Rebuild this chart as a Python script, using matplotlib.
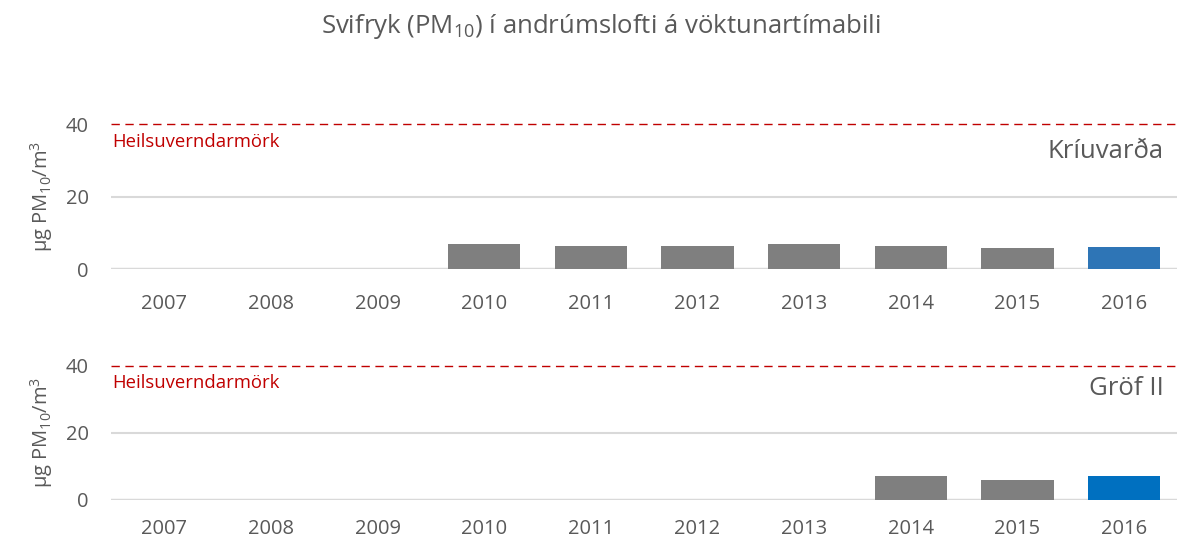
#Svifryk (PM10) chart, two stations stacked
import numpy as np
import matplotlib.pyplot as plt

plt.rcParams['font.family'] = ['Open Sans', 'DejaVu Sans']
plt.rcParams['mathtext.fontset'] = 'custom'
plt.rcParams['mathtext.rm'] = 'Open Sans'
plt.rcParams['mathtext.it'] = 'Open Sans'

#Data
years = ['2007', '2008', '2009', '2010', '2011', '2012', '2013', '2014', '2015', '2016']
kriuvarda = [0, 0, 0, 6.9, 6.3, 6.3, 7.0, 6.3, 5.8, 6.2]
grof = [0, 0, 0, 0, 0, 0, 0, 7.1, 5.9, 7.1]
limit = 40
yticks = [0, 20, 40]

txt_grey = '#595959'
bar_grey = '#7f7f7f'
grid_col = '#d9d9d9'
red = '#c00000'

fig = plt.figure(figsize=(11.77, 5.43), dpi=100)
fig.text(0.511, 0.952, 'Svifryk (PM$_{10}$) í andrúmslofti á vöktunartímabili',
         ha='center', va='center', fontsize=18.5, color=txt_grey)

ax1 = fig.add_axes([0.0943, 0.5046, 0.906, 0.267])
ax2 = fig.add_axes([0.0943, 0.0800, 0.906, 0.2460])

panels = [(ax1, kriuvarda, 'Kríuvarða', '#2e75b6', 32.3, 18),
          (ax2, grof, 'Gröf II', '#0070c0', 33.2, 14)]

x = np.arange(len(years))
for ax, vals, name, last_col, name_y, xpad in panels:
    cols = [bar_grey] * (len(vals) - 1) + [last_col]
    ax.bar(x, vals, width=0.68, color=cols, zorder=3)
    ax.axhline(0, color=grid_col, lw=2.5, zorder=2)
    ax.axhline(20, color=grid_col, lw=1.5, zorder=1)
    ax.axhline(limit, color=red, lw=1, ls=(0, (6, 4)), zorder=2, clip_on=False)
    ax.set_xlim(-0.5, len(years) - 0.5)
    ax.set_ylim(0, limit)
    ax.set_xticks(x)
    ax.set_xticklabels(years)
    ax.set_yticks(yticks)
    ax.tick_params(length=0, labelsize=14.5, colors=txt_grey)
    ax.tick_params(axis='x', pad=xpad)
    ax.tick_params(axis='y', pad=16)
    for s in ax.spines.values():
        s.set_visible(False)
    ax.set_ylabel('µg PM$_{10}$/m$^3$', fontsize=14.5, color=txt_grey, labelpad=8)
    ax.text(-0.49, 35, 'Heilsuverndarmörk', color=red, fontsize=13.3, va='center', ha='left')
    ax.text(9.37, name_y, name, color=txt_grey, fontsize=18.5, va='center', ha='right')

fig.savefig('out.png', dpi=100)
